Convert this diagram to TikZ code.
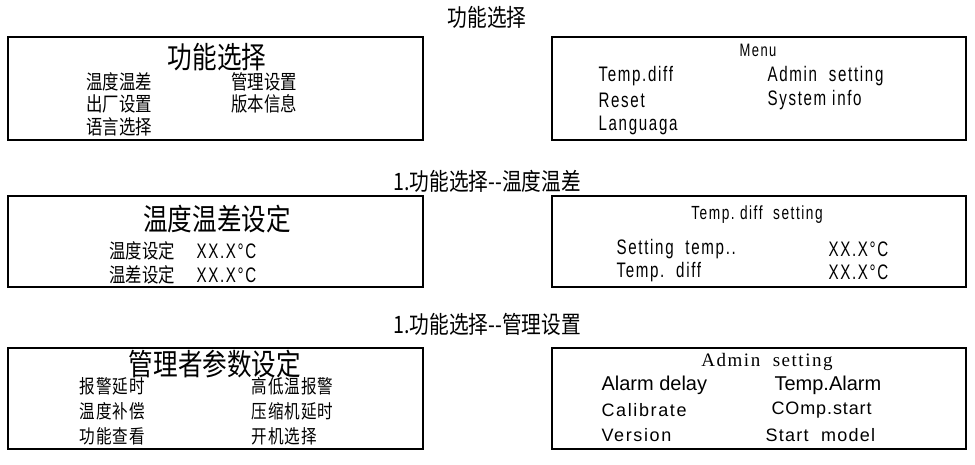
\documentclass[tikz,border=0pt]{standalone}
\usepackage{fontspec}
\setmainfont{Liberation Sans}[FakeStretch=0.78]
\newfontfamily\cn{Noto Sans CJK SC}[FakeStretch=0.82]
\newfontfamily\en{Liberation Sans}[FakeStretch=0.72,LetterSpace=8]
\newfontfamily\enn{Liberation Sans}
\newfontfamily\sr{Liberation Serif}[LetterSpace=8]
\begin{document}
\begin{tikzpicture}[x=1pt,y=-1pt,
  box/.style={draw,line width=1.6pt},
  ttl/.style={font=\cn\fontsize{24}{24}\selectfont},
  big/.style={font=\cn\fontsize{30}{30}\selectfont},
  cnt/.style={anchor=west,font=\cn\fontsize{20}{20}\selectfont},
  cns/.style={anchor=west,font=\cn\fontsize{19}{19}\addfontfeature{LetterSpace=5}\selectfont},
  ent/.style={anchor=west,font=\en\fontsize{21}{21}\selectfont},
  ent2/.style={anchor=west,font=\enn\fontsize{20}{20}\selectfont}]
\useasboundingbox (0,0) rectangle (975,465);
\fill[white] (0,0) rectangle (975,465);
% titles
\node[ttl] (t1) at (487,17) {功能选择};
\node[ttl] (t2) at (487,181) {1.功能选择--温度温差};
\node[ttl] (t3) at (487,324) {1.功能选择--管理设置};
% boxes
\draw[box] (8,37) rectangle (423,140);
\draw[box] (552,37) rectangle (966,140);
\draw[box] (8,196) rectangle (423,287);
\draw[box] (552,196) rectangle (966,287);
\draw[box] (8,348) rectangle (423,449);
\draw[box] (552,348) rectangle (966,449);
% box 1 left
\node[big] (a0) at (217,57) {功能选择};
\node[cnt] (a1) at (83,82) {温度温差};
\node[cnt] (a2) at (228,82) {管理设置};
\node[cnt] (a3) at (83,104) {出厂设置};
\node[cnt] (a4) at (228,104) {版本信息};
\node[cnt] (a5) at (83,127) {语言选择};
% box 1 right
\node[font=\en\fontsize{18}{18}\selectfont] (b0) at (758,50) {Menu};
\node[ent] (b1) at (595,76) {Temp.diff};
\node[ent] (b2) at (764,76) {Admin\ \ setting};
\node[ent] (b3) at (595,100) {Reset};
\node[ent] (b4) at (764,100) {System\ info};
\node[ent] (b5) at (595,125) {Languaga};
% box 2 left
\node[big] (c0) at (217,219) {温度温差设定};
\node[cnt] (c1) at (106,251) {温度设定};
\node[ent] (c2) at (193,251) {XX.X°C};
\node[cnt] (c3) at (106,275) {温差设定};
\node[ent] (c4) at (193,275) {XX.X°C};
% box 2 right
\node[font=\en\fontsize{19}{19}\selectfont] (d0) at (757,215) {Temp.\ diff\ \ setting};
\node[ent] (d1) at (613,249) {Setting\ \ temp..};
\node[ent] (d2) at (825,249) {XX.X°C};
\node[ent] (d3) at (613,272) {Temp.\ \ diff};
\node[ent] (d4) at (825,272) {XX.X°C};
% box 3 left
\node[big] (e0) at (215,364) {管理者参数设定};
\node[cns] (e1) at (76,386) {报警延时};
\node[cns] (e2) at (248,386) {高低温报警};
\node[cns] (e3) at (76,411) {温度补偿};
\node[cns] (e4) at (248,411) {压缩机延时};
\node[cns] (e5) at (76,436) {功能查看};
\node[cns] (e6) at (248,436) {开机选择};
% box 3 right
\node[font=\sr\fontsize{19}{19}\selectfont] (f0) at (767,362) {Admin\ \ setting};
\node[ent2] (f1) at (598,385) {Alarm delay};
\node[ent2] (f2) at (771,385) {Temp.Alarm};
\node[ent2,font=\enn\fontsize{18}{18}\addfontfeature{LetterSpace=9}\selectfont] (f3) at (598,410) {Calibrate};
\node[ent2,font=\enn\fontsize{18}{18}\addfontfeature{LetterSpace=5}\selectfont] (f4) at (768,410) {COmp.start};
\node[ent2,font=\enn\fontsize{18}{18}\addfontfeature{LetterSpace=9}\selectfont] (f5) at (598,435) {Version};
\node[ent2,font=\enn\fontsize{18}{18}\addfontfeature{LetterSpace=7}\selectfont] (f6) at (762,435) {Start\ \ model};
\end{tikzpicture}
\end{document}
